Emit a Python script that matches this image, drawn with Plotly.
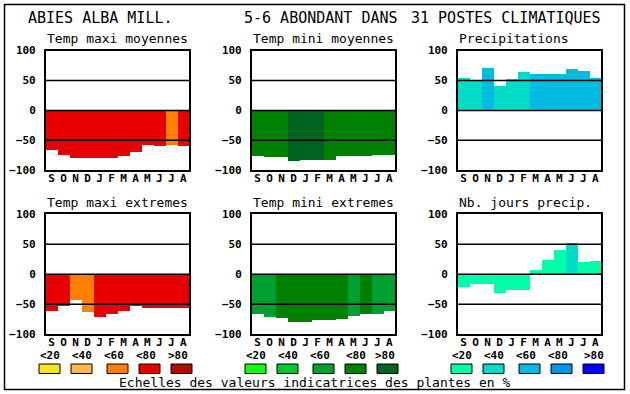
import plotly.graph_objects as go

W, H = 630, 394

months = ["S", "O", "N", "D", "J", "F", "M", "A", "M", "J", "J", "A"]
legend_labels = ["<20", "<40", "<60", "<80", ">80"]

tmax_moy = [-65, -73, -78, -78, -78, -78, -75, -68, -57, -58, -57, -58]
tmax_moy_cls = [3, 3, 3, 3, 3, 3, 3, 3, 3, 3, 2, 3]
tmin_moy = [-75, -77, -77, -83, -82, -82, -82, -75, -75, -75, -73, -73]
tmin_moy_cls = [3, 3, 3, 4, 4, 4, 3, 3, 3, 3, 3, 3]
precip = [55, 52, 72, 42, 53, 65, 62, 62, 62, 70, 67, 55]
precip_cls = [1, 1, 2, 1, 1, 1, 2, 2, 2, 2, 2, 2]
tmax_ext = [-61, -53, -44, -64, -72, -66, -62, -54, -56, -57, -57, -56]
tmax_ext_cls = [3, 3, 2, 2, 3, 3, 3, 3, 3, 3, 3, 3]
tmin_ext = [-67, -72, -74, -80, -80, -77, -77, -75, -70, -67, -67, -62]
tmin_ext_cls = [2, 2, 3, 3, 3, 3, 3, 3, 2, 3, 2, 2]
njours = [-21, -17, -17, -31, -26, -26, 7, 24, 40, 52, 20, 22]
njours_cls = [0, 0, 0, 0, 0, 0, 0, 0, 0, 1, 0, 0]

reds = ["#F5E51A", "#FFB850", "#FF8000", "#E80000", "#B00C00"]
greens = ["#10FF10", "#00C832", "#00A030", "#008000", "#006420"]
blues = ["#00FFAA", "#00DCC8", "#00BCE0", "#0096E8", "#0000FF"]

panels = [
    ("Temp maxi moyennes", tmax_moy, tmax_moy_cls, reds),
    ("Temp mini moyennes", tmin_moy, tmin_moy_cls, greens),
    ("Precipitations", precip, precip_cls, blues),
    ("Temp maxi extremes", tmax_ext, tmax_ext_cls, reds),
    ("Temp mini extremes", tmin_ext, tmin_ext_cls, greens),
    ("Nb. jours precip.", njours, njours_cls, blues),
]

xs_px = [(45.7, 189.3), (251.7, 395.3), (457.7, 601.3)]
ys_px = [(50.5, 170.3), (214.3, 334.3)]

MONO = "DejaVu Sans Mono"

def px_x(p):
    return p / W

def px_y(p):
    return 1 - p / H

fig = go.Figure()
annotations = []
shapes = []

for i, (title, vals, cls, pal) in enumerate(panels):
    r, c = divmod(i, 3)
    n = i + 1
    xa = "xaxis" if n == 1 else f"xaxis{n}"
    ya = "yaxis" if n == 1 else f"yaxis{n}"
    xr = "x" if n == 1 else f"x{n}"
    yr = "y" if n == 1 else f"y{n}"
    x0, x1 = xs_px[c]
    y0, y1 = ys_px[r]
    fig.add_trace(go.Bar(
        x=list(range(12)), y=vals,
        marker=dict(color=[pal[k] for k in cls], line=dict(width=0)),
        xaxis=xr, yaxis=yr, showlegend=False, hoverinfo="skip",
    ))
    fig.update_layout(**{
        xa: dict(domain=[px_x(x0), px_x(x1)], range=[-0.5, 11.5], anchor=yr,
                 tickvals=list(range(12)), ticktext=months, automargin=False,
                 tickfont=dict(family=MONO, size=11, color="black", weight="bold"),
                 showline=True, mirror=True, linecolor="black", linewidth=1.5,
                 showgrid=False, zeroline=False, ticks="", ticklabelstandoff=-3,
                 fixedrange=True),
        ya: dict(domain=[px_y(y1), px_y(y0)], range=[-100, 100], anchor=xr,
                 tickvals=[-100, -50, 0, 50, 100], automargin=False,
                 tickfont=dict(family=MONO, size=11, color="black", weight="bold"),
                 showline=True, mirror=True, linecolor="black", linewidth=1.5,
                 showgrid=False, zeroline=False, ticks="", ticklabelstandoff=6,
                 fixedrange=True),
    })
    for v in (50, 0, -50):
        shapes.append(dict(type="line", xref=f"{xr} domain", yref=yr,
                           x0=0, x1=1, y0=v, y1=v, layer="above",
                           line=dict(color="black", width=1.5)))
    annotations.append(dict(text=title, x=px_x(x0 - 1), y=px_y(y0 - 12),
                            xref="paper", yref="paper", xanchor="left", yanchor="middle",
                            showarrow=False,
                            font=dict(family=MONO, size=13, color="black")))

# main titles
for txt, xp, anch in [("ABIES ALBA MILL.", 26, "left"),
                      ("5-6 ABONDANT DANS", 242, "left"),
                      ("31 POSTES CLIMATIQUES", 603, "right")]:
    annotations.append(dict(text=txt, x=px_x(xp), y=px_y(18), xref="paper", yref="paper",
                            xanchor=anch, yanchor="middle", showarrow=False,
                            font=dict(family=MONO, size=15, color="black")))

# legend scales
label_starts = [[39, 71, 103, 135, 167], [245, 277, 309, 345, 374], [451, 483, 515, 547, 583]]
box_starts = [[39, 71, 107, 139, 171], [245, 277, 313, 345, 377], [451, 483, 519, 551, 583]]
for g, pal in enumerate([reds, greens, blues]):
    for k in range(5):
        annotations.append(dict(text=legend_labels[k], x=px_x(label_starts[g][k] - 1), y=px_y(355.5),
                                xref="paper", yref="paper", xanchor="left", yanchor="middle",
                                showarrow=False,
                                font=dict(family=MONO, size=11, color="black", weight="bold")))
        bx = box_starts[g][k]
        shapes.append(dict(type="rect", xref="paper", yref="paper",
                           x0=px_x(bx), x1=px_x(bx + 21), y0=px_y(373.5), y1=px_y(364),
                           fillcolor=pal[k], line=dict(color="black", width=1)))

annotations.append(dict(text="Echelles des valeurs indicatrices des plantes en %",
                        x=px_x(315), y=px_y(382), xref="paper", yref="paper",
                        xanchor="center", yanchor="middle", showarrow=False,
                        font=dict(family=MONO, size=13, color="black")))

# outer border
shapes.append(dict(type="rect", xref="paper", yref="paper",
                   x0=px_x(4.5), x1=px_x(624.5), y0=px_y(389.5), y1=px_y(4.5),
                   line=dict(color="black", width=1.5), fillcolor="rgba(0,0,0,0)"))

fig.update_layout(width=W, height=H, margin=dict(l=0, r=0, t=0, b=0, autoexpand=False),
                  paper_bgcolor="white", plot_bgcolor="white",
                  bargap=0, annotations=annotations, shapes=shapes,
                  font=dict(family=MONO, color="black"))

fig.write_html("out.html", config={"displayModeBar": False},
               post_script="document.body.style.margin='0';document.body.style.overflow='hidden';")
